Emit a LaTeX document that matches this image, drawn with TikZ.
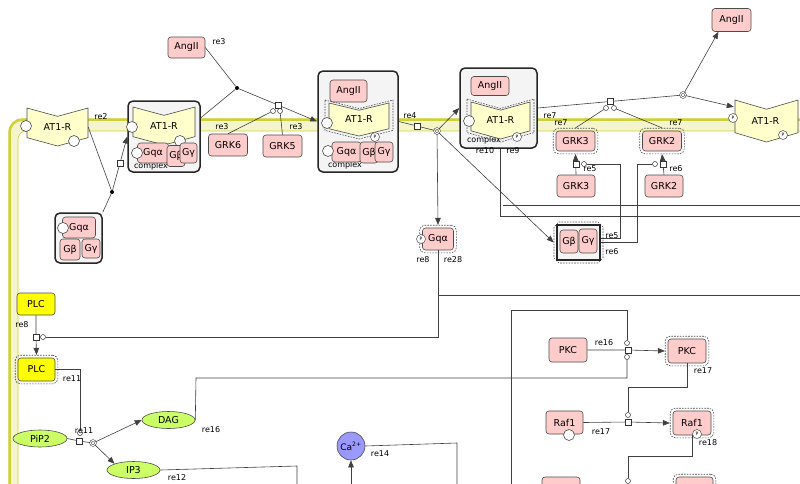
\documentclass[tikz,border=0pt]{standalone}
\usepackage{fontspec}
\setmainfont{DejaVu Sans}
\usetikzlibrary{arrows.meta,shapes.geometric,shapes.misc,fit}

\definecolor{protein}{HTML}{FFCCCC}
\definecolor{rcptfill}{HTML}{FFFFCC}
\definecolor{plcfill}{HTML}{FFFF00}
\definecolor{lipidfill}{HTML}{CCFF66}
\definecolor{ionfill}{HTML}{9999FF}
\definecolor{memline}{HTML}{CFCF3A}
\definecolor{memfill}{HTML}{F5F5CC}
\definecolor{cplxfill}{HTML}{F4F4F4}

\newcommand{\rcpt}[5][rcptline]{%
  \path[#1] (#2,#3) -- ({(#2+#4)/2},{#3+0.22*(#5-#3)}) -- (#4,#3)
    -- (#4,{#5-0.22*(#5-#3)}) -- ({(#2+#4)/2},#5) -- (#2,{#5-0.22*(#5-#3)}) -- cycle;}

\begin{document}
\begin{tikzpicture}[x=1pt,y=-1pt,
  lbl/.style={font=\fontsize{8}{9}\selectfont,inner sep=0pt},
  species/.style={draw=black!70,fill=protein,rounded corners=3pt,line width=0.6pt,inner sep=0pt,font=\fontsize{9.5}{10}\selectfont},
  plc/.style={species,fill=plcfill},
  lipid/.style={ellipse,draw=black!70,fill=lipidfill,line width=0.6pt,inner sep=0pt,minimum width=54pt,minimum height=17pt,font=\fontsize{9.5}{10}\selectfont},
  halo/.style={draw=black!70,dash pattern=on 1.6pt off 1.2pt,rounded corners=5pt,inner sep=2.5pt,line width=0.6pt},
  cplx/.style={draw=black!85,fill=cplxfill,rounded corners=5pt,line width=1.5pt,inner sep=0pt},
  rlabel/.style={inner sep=0pt,font=\fontsize{9.5}{10}\selectfont},
  rcptline/.style={draw=black!70,fill=rcptfill,line width=0.6pt},
  rcpthalo/.style={draw=black!70,dash pattern=on 1.6pt off 1.2pt,line width=0.6pt},
  state/.style={circle,draw=black!70,fill=white,minimum size=11pt,inner sep=0pt,line width=0.6pt},
  pstate/.style={circle,draw=black!70,fill=white,minimum size=9pt,inner sep=0pt,line width=0.5pt,font=\fontsize{4.5}{5}\selectfont},
  proc/.style={draw=black!80,fill=white,minimum size=6pt,inner sep=0pt,line width=0.5pt},
  modc/.style={circle,draw=black!80,fill=white,minimum size=5pt,inner sep=0pt,line width=0.5pt},
  assoc/.style={circle,fill=black,minimum size=4pt,inner sep=0pt},
  dissoc/.style={circle,draw=black!80,double=white,double distance=1.1pt,minimum size=5pt,inner sep=0pt,line width=0.5pt},
  link/.style={draw=black!75,line width=0.6pt},
  arr/.style={-{Triangle[length=7pt,width=5.5pt]}}]
  \useasboundingbox (0,0) rectangle (800,483);
  \clip (0,0) rectangle (800,483);

  \fill[memfill,rounded corners=14pt] (8,118) rectangle (900,700);
  \fill[white,rounded corners=8pt] (18,131) rectangle (900,700);
  \draw[memline,line width=2.5pt,rounded corners=13pt] (9.5,119.5) rectangle (900,700);
  \draw[memline,line width=0.6pt,rounded corners=8pt] (18,131) rectangle (900,700);

  \rcpt{27}{108}{88}{146}
  \node[rlabel,minimum width=61pt,minimum height=38pt] (at1r) at (57.5,127) {AT1-R};
  \node[state] (at1rs1) at (26,126) {};
  \node[state] (at1rs2) at (74,141) {};

  \node[cplx,minimum width=72pt,minimum height=71pt] (cplx1) at (164,136.5) {};
  \node[lbl] (c1txt) at (151,166) {complex};
  \rcpt{133}{107}{195}{145}
  \node[rlabel,minimum width=62pt,minimum height=38pt] (at1rc1) at (164,126) {AT1-R};
  \node[state] (c1s1) at (132,127) {};
  \node[state] (c1s2) at (180,141) {};
  \node[species,minimum width=31pt,minimum height=20pt] (gqac1) at (153,153) {Gqα};
  \node[state] (c1s3) at (137,153) {};
  \node[species,minimum width=18pt,minimum height=21pt] (gbc1) at (176,156) {Gβ};
  \node[species,minimum width=17pt,minimum height=20pt] (ggc1) at (188.5,153) {Gγ};

  \node[cplx,minimum width=47pt,minimum height=50pt] (gq) at (78.5,238) {};
  \node[species,minimum width=33pt,minimum height=21pt] (gqa) at (79,227.5) {Gqα};
  \node[state] (gqs) at (63,228) {};
  \node[species,minimum width=20pt,minimum height=21pt] (gb) at (70,249.5) {Gβ};
  \node[species,minimum width=18pt,minimum height=19pt] (gg) at (91,248.5) {Gγ};

  \node[species,minimum width=37pt,minimum height=21pt] (angii1) at (186.5,47.5) {AngII};
  \node[species,minimum width=39pt,minimum height=22pt] (grk6) at (228,145) {GRK6};
  \node[species,minimum width=39pt,minimum height=22pt] (grk5) at (282.5,146) {GRK5};

  \node[cplx,minimum width=80pt,minimum height=101pt] (cplx2) at (358,121.5) {};
  \node[lbl] (c2txt) at (345,165) {complex};
  \node[species,minimum width=37pt,minimum height=22pt] (angiic2) at (348.5,91) {AngII};
  \rcpt[rcpthalo]{325}{100}{393}{139}
  \rcpt{329}{103}{389}{136}
  \node[rlabel,minimum width=60pt,minimum height=33pt] (at1rc2) at (359,119.5) {AT1-R};
  \node[state] (c2s1) at (327,123) {};
  \node[pstate] (c2p) at (375,137) {P};
  \node[species,minimum width=29pt,minimum height=20pt] (gqac2) at (346.5,152) {Gqα};
  \node[state] (c2s2) at (328,151) {};
  \node[species,minimum width=18pt,minimum height=21pt] (gbc2) at (369,152.5) {Gβ};
  \node[species,minimum width=18pt,minimum height=20pt] (ggc2) at (384,152) {Gγ};

  \node[cplx,minimum width=77pt,minimum height=80pt] (cplx3) at (498.5,108) {};
  \node[lbl] (c3txt) at (484,140) {complex};
  \node[species,minimum width=38pt,minimum height=19pt] (angiic3) at (490,86) {AngII};
  \rcpt[rcpthalo]{467}{99}{534}{142}
  \rcpt{471}{102}{530}{139}
  \node[rlabel,minimum width=59pt,minimum height=37pt] (at1rc3) at (500.5,120) {AT1-R};
  \node[state] (c3s) at (469,121) {};
  \node[pstate] (c3p) at (517,137) {P};

  \node[species,minimum width=39pt,minimum height=23pt] (angii2) at (731.5,20) {AngII};
  \rcpt{735}{100}{798}{142}
  \node[rlabel,minimum width=63pt,minimum height=42pt] (at1rp) at (765.5,121) {AT1-R};
  \node[pstate] (at1rpp1) at (733,118) {P};
  \node[pstate] (at1rpp2) at (783,135) {P};

  \node[species,minimum width=39pt,minimum height=20pt] (grk3a) at (575.5,141) {GRK3};
  \node[halo,fit=(grk3a)] (grk3ah) {};
  \node[species,minimum width=39pt,minimum height=20pt] (grk2a) at (662,141) {GRK2};
  \node[halo,fit=(grk2a)] (grk2ah) {};
  \node[species,minimum width=38pt,minimum height=22pt] (grk3) at (576,186) {GRK3};
  \node[species,minimum width=38pt,minimum height=22pt] (grk2) at (664,186) {GRK2};

  \node[halo,chamfered rectangle,sharp corners,chamfered rectangle xsep=7pt,minimum width=49pt,minimum height=41pt] (gbgh) at (578.5,242.5) {};
  \node[cplx,chamfered rectangle,sharp corners,chamfered rectangle xsep=6pt,minimum width=43pt,minimum height=35pt] (gbg) at (578.5,242.5) {};
  \node[species,minimum width=18pt,minimum height=23pt] (gbgb) at (569,241.5) {Gβ};
  \node[species,minimum width=18pt,minimum height=24pt] (gbgg) at (588,241) {Gγ};

  \node[species,minimum width=31pt,minimum height=22pt] (gqap) at (438,239) {Gqα};
  \node[halo,fit=(gqap)] (gqaph) {};
  \node[pstate] (gqapp) at (421,239) {P};

  \node[plc,minimum width=38pt,minimum height=22pt] (plc) at (36,304) {PLC};
  \node[plc,minimum width=37pt,minimum height=23pt] (plca) at (36.5,369.5) {PLC};
  \node[halo,fit=(plca)] (plcah) {};

  \node[lipid] (pip2) at (40,438.5) {PiP2};
  \node[lipid,minimum width=53pt] (dag) at (168.5,420) {DAG};
  \node[lipid,minimum width=53pt] (ip3) at (133.5,470) {IP3};
  \node[circle,draw=black!70,fill=ionfill,line width=0.6pt,minimum size=28pt,inner sep=0pt,font=\fontsize{9}{9}\selectfont] (ca) at (351,446) {Ca\textsuperscript{2+}};

  \node[species,minimum width=38pt,minimum height=24pt] (pkc) at (568,350) {PKC};
  \node[species,minimum width=38pt,minimum height=24pt] (pkca) at (687,351) {PKC};
  \node[halo,fit=(pkca)] (pkcah) {};
  \node[species,minimum width=37pt,minimum height=23pt] (raf1) at (564.5,422.5) {Raf1};
  \node[state] (raf1s) at (569,435) {};
  \node[species,minimum width=38pt,minimum height=24pt] (raf1a) at (692,423) {Raf1};
  \node[halo,fit=(raf1a)] (raf1ah) {};
  \node[pstate] (raf1p) at (697,434) {P};
  \node[species,minimum width=38pt,minimum height=26pt] (botl) at (561,490) {};
  \node[species,minimum width=37pt,minimum height=26pt] (botr) at (694.5,490) {};
  \node[halo,fit=(botr)] (botrh) {};

  \node[assoc] (re2dot) at (112,192) {};
  \node[proc] (re2sq) at (120,163) {};
  \node[assoc] (re3dot) at (237,88) {};
  \node[proc] (re3sq) at (278,105) {};
  \node[modc] (re3ma) at (273,111) {};
  \node[modc] (re3mb) at (280,111) {};
  \node[proc] (re4sq) at (417,126) {};
  \node[dissoc] (re4dis) at (437,131) {};
  \node[proc] (re7sq) at (610,101.5) {};
  \node[modc] (re7ma) at (606,108) {};
  \node[modc] (re7mb) at (614,108) {};
  \node[dissoc] (re7dis) at (683,95) {};
  \node[proc] (re5sq) at (575.8,164) {};
  \node[modc] (re5mod) at (584,164) {};
  \node[proc] (re6sq) at (663,164) {};
  \node[modc] (re6mod) at (655,164) {};
  \node[proc] (re8sq) at (36,337) {};
  \node[modc] (re8mod) at (43,337) {};
  \node[proc] (re11sq) at (79,441) {};
  \node[modc] (re11mod) at (80,433) {};
  \node[dissoc] (re11dis) at (93,443) {};
  \node[proc] (re16sq) at (628,350) {};
  \node[modc] (re16ma) at (627,343) {};
  \node[modc] (re16mb) at (627,357) {};
  \node[proc] (re17sq) at (628,422) {};
  \node[modc] (re17mod) at (628,415) {};
  \node[modc] (re18mod) at (628,481) {};

  \coordinate (re9out) at (810,216);
  \coordinate (re10a) at (503,205.5);
  \coordinate (re10out) at (810,205.5);
  \coordinate (re28out) at (810,295);
  \coordinate (re16in) at (511,500);
  \coordinate (re14in) at (351,500);
  \coordinate (re14out) at (457,500);
  \coordinate (re12out) at (297,500);

  \draw[link] (at1r.east) -- (re2dot);
  \draw[link] (gq.north east) -- (re2dot);
  \draw[link,arr] (re2dot) -- (re2sq) -- (cplx1.west);

  \draw[link] (angii1.east) -- (re3dot);
  \draw[link] (cplx1.27) -- (re3dot);
  \draw[link,arr] (re3dot) -- (re3sq) -- (cplx2.west);
  \draw[link] (grk6.north) -- (re3ma);
  \draw[link] (grk5.north) -- (re3mb);

  \draw[link] (cplx2.east) -- (re4sq) -- (re4dis);
  \draw[link,arr] (re4dis) -- (cplx3.west);
  \draw[link,arr] (re4dis) -- (gqaph.north);
  \draw[link,arr] (re4dis) -- (gbgh.west);

  \draw[link] (cplx3.east) -- (re7sq) -- (re7dis);
  \draw[link,arr] (re7dis) -- (angii2.-138);
  \draw[link,arr] (re7dis) -- (at1rp.156);
  \draw[link] (grk3ah.north) -- (re7ma);
  \draw[link] (grk2ah.north) -- (re7mb);

  \draw[link,arr] (grk3.north) -- (re5sq) -- (grk3ah.south);
  \draw[link,arr] (grk2.north) -- (re6sq) -- (grk2ah.south);
  \draw[link] ([yshift=4pt]gbg.east) -- ++(20,0) |- (re5mod);
  \draw[link] (gbg.east) -- ++(37,0) |- (re6mod);

  \draw[link] ([xshift=1.5pt]cplx3.south) |- (re9out);
  \draw[link] (re10a) -- (re10out);

  \draw[link,arr] (plc.south) -- (re8sq) -- (plcah.north);
  \draw[link] (gqap.south) |- (re8mod);
  \draw[link] (gqap.south) |- (re28out);

  \draw[link] (pip2.east) -- (re11sq) -- (re11dis);
  \draw[link,arr] (re11dis) -- (dag.west);
  \draw[link,arr] (re11dis) -- (ip3.north west);
  \draw[link] (plca.east) -| (re11mod);

  \draw[link] (dag.east) -- (196,378) -| (re16mb);
  \draw[link] (re16ma) |- (511,310) -- (re16in);
  \draw[link,arr] (pkc.east) -- (re16sq) -- (pkcah.west);
  \draw[link,arr] (raf1.east) -- (re17sq) -- (raf1ah.west);
  \draw[link] (pkca.south) -- ++(0,24) -| (re17mod);
  \draw[link] (raf1a.south) -- ++(0,21) -| (re18mod);

  \draw[link] (ca.east) -- (457,443) -- (re14out);
  \draw[link,arr] (re14in) -- (ca.south);
  \draw[link] (ip3.east) -- (297,466) -- (re12out);

  \node[lbl] (lre2) at (101,117) {re2};
  \node[lbl] (lre3a) at (219,42) {re3};
  \node[lbl] (lre3b) at (222,127) {re3};
  \node[lbl] (lre3c) at (296,127) {re3};
  \node[lbl] (lre4) at (410,116) {re4};
  \node[lbl] (lre10) at (485,151) {re10};
  \node[lbl] (lre9) at (513,151) {re9};
  \node[lbl] (lre7a) at (550,116) {re7};
  \node[lbl] (lre7b) at (561,123) {re7};
  \node[lbl] (lre7c) at (676,123) {re7};
  \node[lbl] (lre5a) at (590,169) {re5};
  \node[lbl] (lre6a) at (676,169) {re6};
  \node[lbl] (lre5b) at (612,236) {re5};
  \node[lbl] (lre6b) at (612,252) {re6};
  \node[lbl] (lre8a) at (423,260) {re8};
  \node[lbl] (lre28) at (453,260) {re28};
  \node[lbl] (lre8b) at (22,325) {re8};
  \node[lbl] (lre11a) at (72,379) {re11};
  \node[lbl] (lre11b) at (84,431) {re11};
  \node[lbl] (lre16a) at (211,430) {re16};
  \node[lbl] (lre12) at (177,478) {re12};
  \node[lbl] (lre14) at (380,454) {re14};
  \node[lbl] (lre16b) at (604,343) {re16};
  \node[lbl] (lre17a) at (703,371) {re17};
  \node[lbl] (lre17b) at (601,432) {re17};
  \node[lbl] (lre18) at (708,443) {re18};
\end{tikzpicture}
\end{document}
